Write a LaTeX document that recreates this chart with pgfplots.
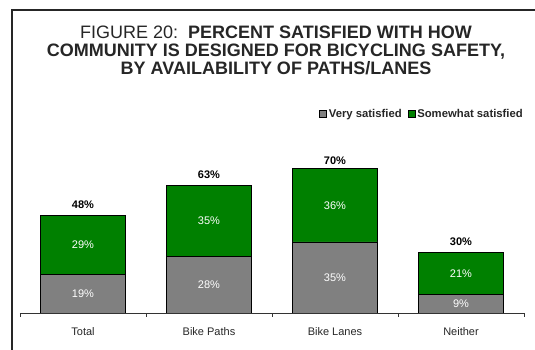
\documentclass[border=0pt]{standalone}
\usepackage{pgfplots}
\pgfplotsset{compat=1.18}
\usepackage{fontspec}
\setmainfont{Liberation Sans}
\definecolor{vsgray}{RGB}{128,128,128}
\definecolor{swgreen}{RGB}{0,128,0}
\begin{document}
\begin{tikzpicture}
\path[use as bounding box] (0pt,0pt) rectangle (535pt,350pt);
\draw[line width=1.6pt, black!85] (12pt,-5pt) -- (12pt,340pt) -- (545pt,340pt);
\node[align=center, font=\fontsize{18}{18}\selectfont, text=black!85] at (276pt,300pt)
  {FIGURE 20:\ \ \textbf{PERCENT SATISFIED WITH HOW}\\
   \textbf{COMMUNITY IS DESIGNED FOR BICYCLING SAFETY,}\\
   \textbf{BY AVAILABILITY OF PATHS/LANES}};
\begin{axis}[
  at={(20pt,37pt)}, anchor=south west,
  x=126pt, y=2.03pt,
  xmin=-0.5, xmax=3.5, ymin=0, ymax=100,
  ybar stacked, bar width=85pt,
  axis x line=bottom, axis y line=none,
  axis line style={-, black!80, line width=0.8pt},
  xtick={0,1,2,3}, xticklabels={Total,Bike Paths,Bike Lanes,Neither},
  major tick length=0pt,
  minor xtick={-0.5,0.5,1.5,2.5,3.5}, minor tick length=4pt, tick align=outside,
  minor tick style={black!80, line width=0.8pt},
  xticklabel style={font=\fontsize{11}{13}\selectfont, text=black!85, yshift=-11pt},
  legend columns=2,
  legend style={at={(axis description cs:1,0.98)}, anchor=east, xshift=4pt, draw=none, fill=none,
    font=\fontsize{11.3}{13}\selectfont\bfseries, text=black!85,
    /tikz/every even column/.append style={column sep=4pt}},
  legend image code/.code={\draw[#1, line width=0.6pt] (0pt,-3.5pt) rectangle (7pt,3.5pt);},
]
\addplot[fill=vsgray, draw=black, line width=0.8pt,
  point meta=explicit symbolic, nodes near coords,
  every node near coord/.style={anchor=center, text=white, font=\fontsize{11}{13}\selectfont}]
  coordinates {(0,19) [19\%] (1,28) [28\%] (2,35) [35\%] (3,9) [9\%]};
\addlegendentry{Very satisfied}
\addplot[fill=swgreen, draw=black, line width=0.8pt,
  point meta=explicit symbolic, nodes near coords,
  every node near coord/.style={anchor=center, text=white, font=\fontsize{11}{13}\selectfont}]
  coordinates {(0,29) [29\%] (1,35) [35\%] (2,36) [36\%] (3,21) [21\%]};
\addlegendentry{Somewhat satisfied}
\end{axis}
\begin{axis}[
  at={(20pt,37pt)}, anchor=south west,
  x=126pt, y=2.03pt,
  xmin=-0.5, xmax=3.5, ymin=0, ymax=100,
  hide axis,
]
\addplot[only marks, mark=none,
  point meta=explicit symbolic, nodes near coords,
  every node near coord/.style={anchor=south, text=black, font=\fontsize{11}{13}\selectfont\bfseries, yshift=3pt}]
  coordinates {(0,48) [48\%] (1,63) [63\%] (2,70) [70\%] (3,30) [30\%]};
\end{axis}
\end{tikzpicture}
\end{document}
